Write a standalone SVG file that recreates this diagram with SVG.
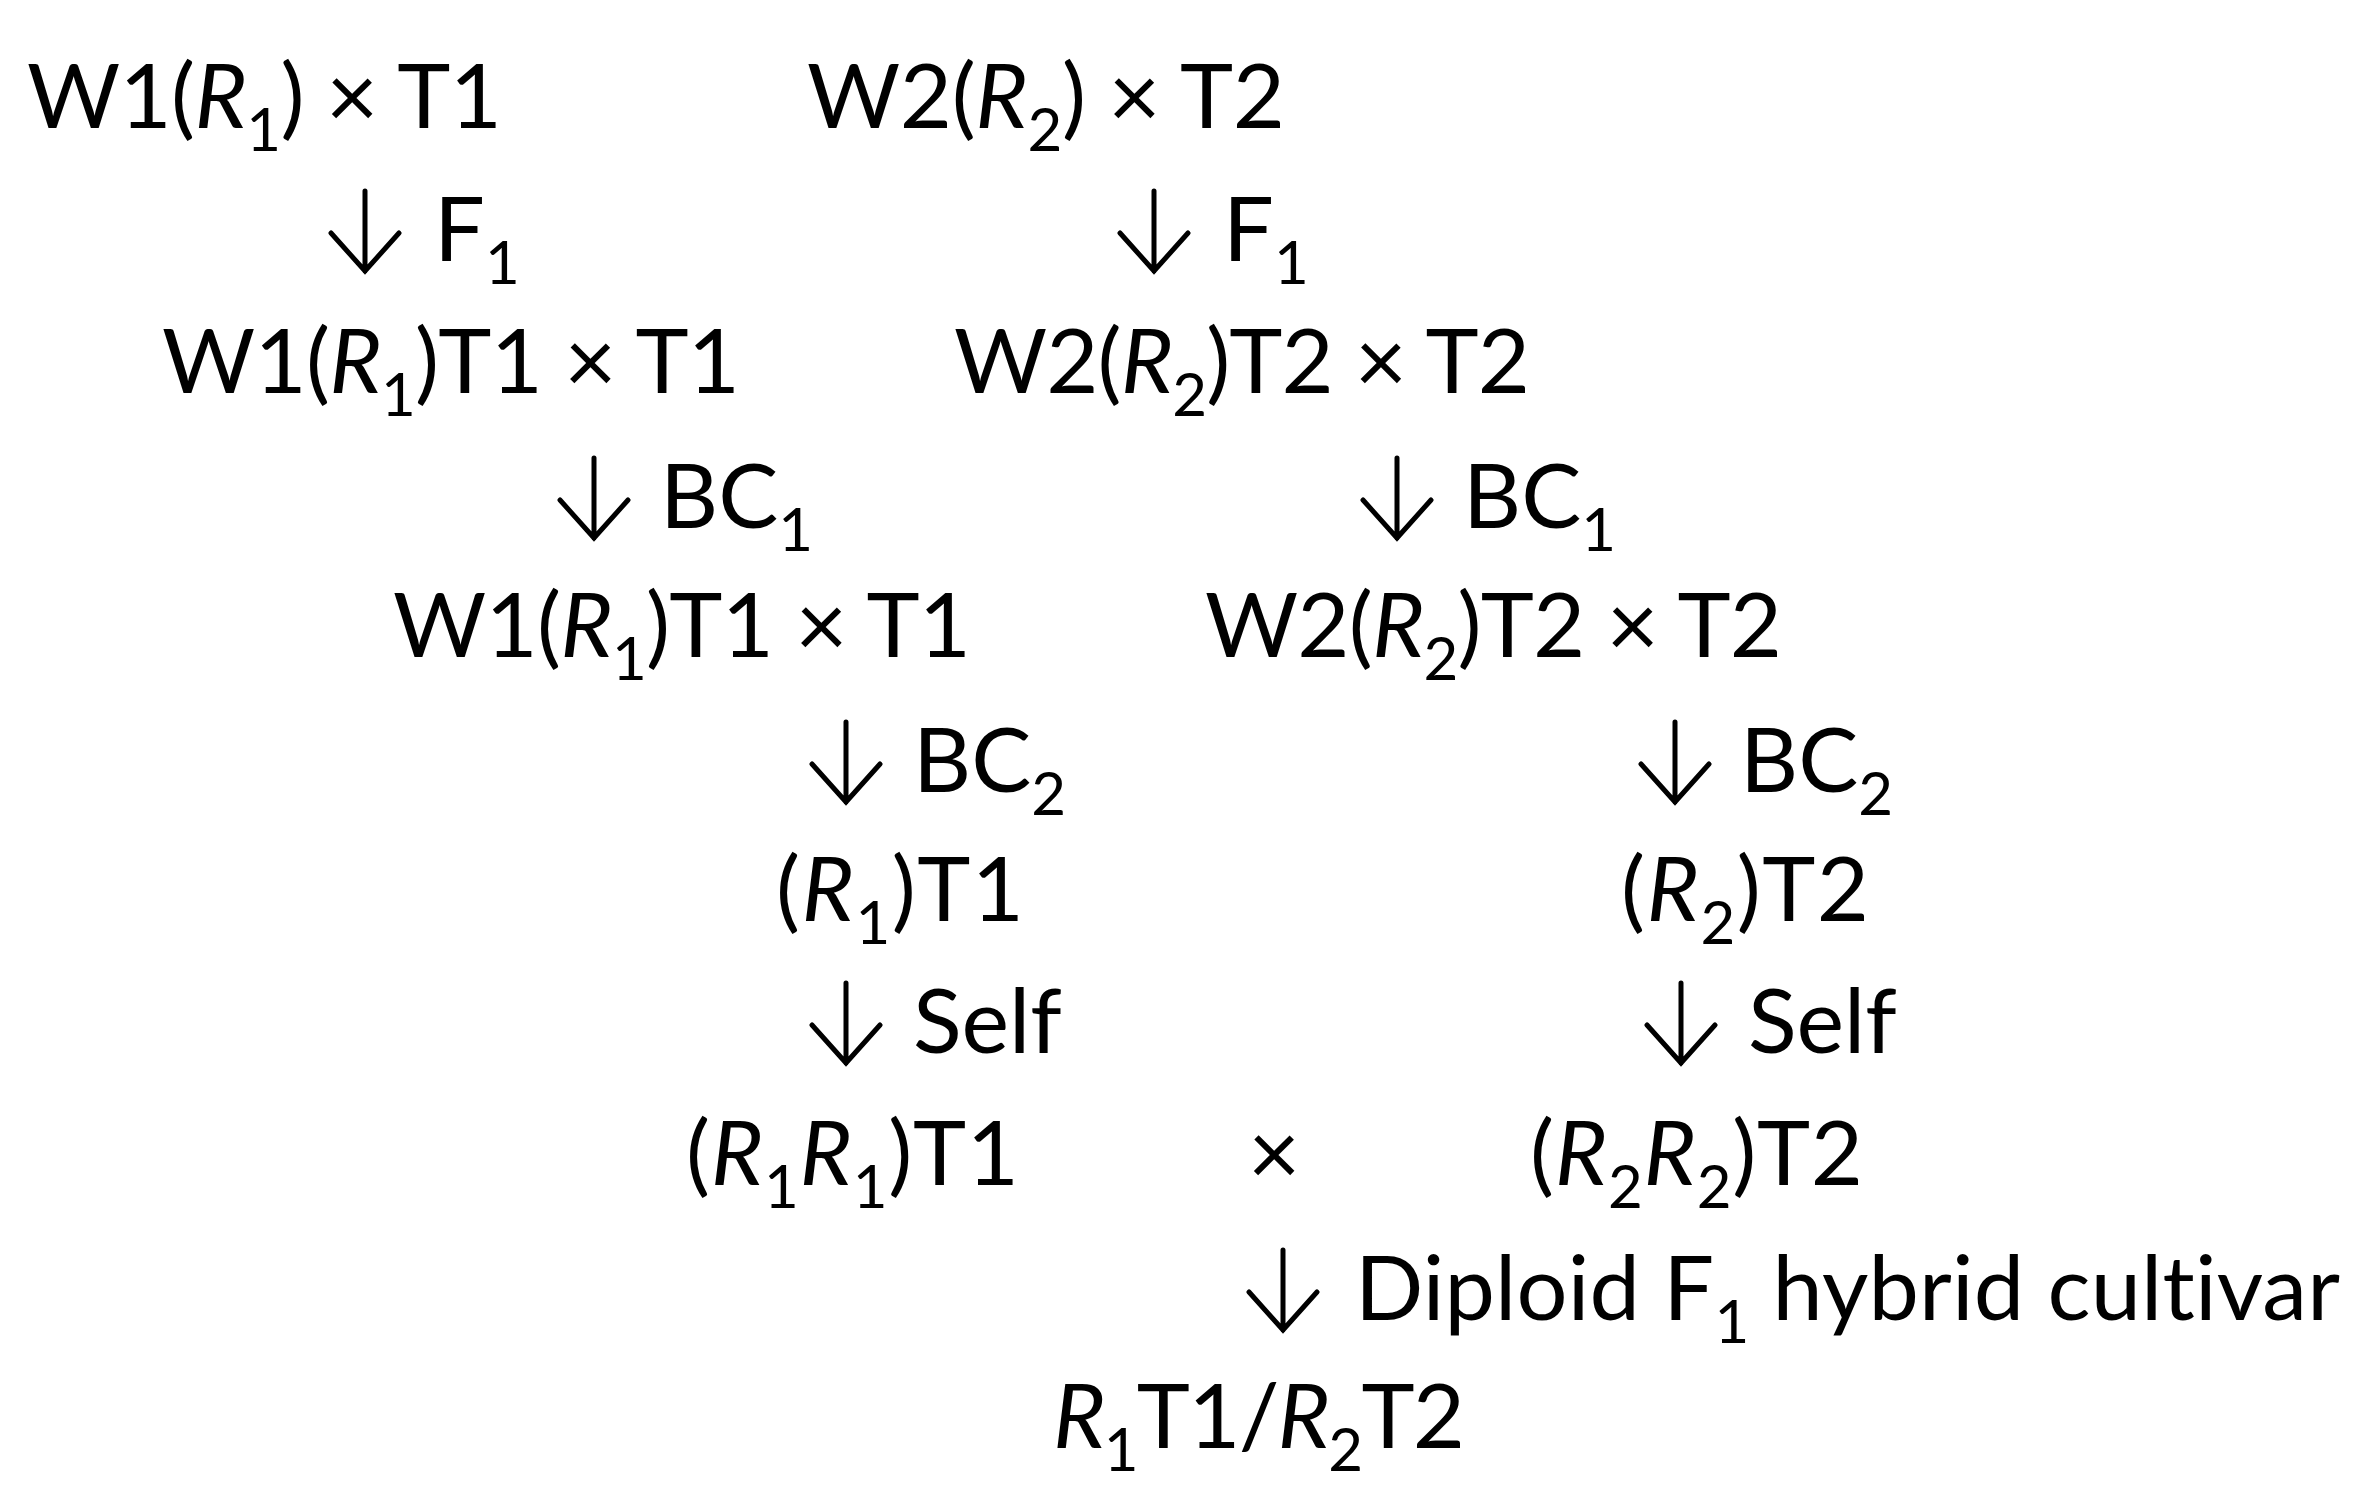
<svg xmlns="http://www.w3.org/2000/svg" width="2353" height="1510" viewBox="0 0 2353 1510">
<style>
  text { font-family: Lato, "Open Sans", "Liberation Sans", sans-serif; font-size: 90px; fill: #000; font-variant-ligatures: none; }
  .i { font-style: italic; }
  .s { font-size: 60px; }
  .arrow { fill: none; stroke: #000; stroke-width: 5; stroke-linecap: round; stroke-linejoin: miter; }
</style>
<defs>
  <path id="arr" class="arrow" d="M0,-70 V10 M-34,-28 L0,10 L34,-28"/>
</defs>
<rect width="2353" height="1510" fill="#fff"/>

<g id="connectors">
  <use href="#arr" x="365" y="261"/>
  <use href="#arr" x="1154" y="261"/>
  <use href="#arr" x="594" y="528"/>
  <use href="#arr" x="1397" y="528"/>
  <use href="#arr" x="846" y="792"/>
  <use href="#arr" x="1675" y="792"/>
  <use href="#arr" x="846" y="1053"/>
  <use href="#arr" x="1681" y="1053"/>
  <use href="#arr" x="1283" y="1320"/>
</g>

<g id="n-w1-t1">
  <text x="27" y="128" textLength="475">W1(<tspan class="i">R</tspan><tspan class="s" dy="23">1</tspan><tspan dy="-23">) × T1</tspan></text>
</g>
<g id="n-w2-t2">
  <text x="807" y="128" textLength="478">W2(<tspan class="i">R</tspan><tspan class="s" dy="23">2</tspan><tspan dy="-23">) × T2</tspan></text>
</g>
<g id="l-f1-left">
  <text x="434" y="261">F<tspan class="s" dy="23">1</tspan></text>
</g>
<g id="l-f1-right">
  <text x="1223" y="261">F<tspan class="s" dy="23">1</tspan></text>
</g>
<g id="n-w1-bc1">
  <text x="162" y="393" textLength="578">W1(<tspan class="i">R</tspan><tspan class="s" dy="23">1</tspan><tspan dy="-23">)T1 × T1</tspan></text>
</g>
<g id="n-w2-bc1">
  <text x="954" y="393" textLength="576">W2(<tspan class="i">R</tspan><tspan class="s" dy="23">2</tspan><tspan dy="-23">)T2 × T2</tspan></text>
</g>
<g id="l-bc1-left">
  <text x="660" y="528">BC<tspan class="s" dy="23">1</tspan></text>
</g>
<g id="l-bc1-right">
  <text x="1463" y="528">BC<tspan class="s" dy="23">1</tspan></text>
</g>
<g id="n-w1-bc2">
  <text x="393" y="657" textLength="578">W1(<tspan class="i">R</tspan><tspan class="s" dy="23">1</tspan><tspan dy="-23">)T1 × T1</tspan></text>
</g>
<g id="n-w2-bc2">
  <text x="1205" y="657" textLength="577">W2(<tspan class="i">R</tspan><tspan class="s" dy="23">2</tspan><tspan dy="-23">)T2 × T2</tspan></text>
</g>
<g id="l-bc2-left">
  <text x="913" y="792">BC<tspan class="s" dy="23">2</tspan></text>
</g>
<g id="l-bc2-right">
  <text x="1740" y="792">BC<tspan class="s" dy="23">2</tspan></text>
</g>
<g id="n-r1t1">
  <text x="776" y="921" textLength="248">(<tspan class="i">R</tspan><tspan class="s" dy="23">1</tspan><tspan dy="-23">)T1</tspan></text>
</g>
<g id="n-r2t2">
  <text x="1621" y="921" textLength="248">(<tspan class="i">R</tspan><tspan class="s" dy="23">2</tspan><tspan dy="-23">)T2</tspan></text>
</g>
<g id="l-self-left">
  <text x="913" y="1053">Self</text>
</g>
<g id="l-self-right">
  <text x="1748" y="1053">Self</text>
</g>
<g id="n-r1r1t1">
  <text x="686" y="1185" textLength="333">(<tspan class="i">R</tspan><tspan class="s" dy="23">1</tspan><tspan class="i" dy="-23">R</tspan><tspan class="s" dy="23">1</tspan><tspan dy="-23">)T1</tspan></text>
</g>
<g id="l-cross">
  <text x="1248" y="1185">×</text>
</g>
<g id="n-r2r2t2">
  <text x="1530" y="1185" textLength="333">(<tspan class="i">R</tspan><tspan class="s" dy="23">2</tspan><tspan class="i" dy="-23">R</tspan><tspan class="s" dy="23">2</tspan><tspan dy="-23">)T2</tspan></text>
</g>
<g id="l-hybrid">
  <text x="1355" y="1320" textLength="985">Diploid F<tspan class="s" dy="23">1</tspan><tspan dy="-23"> hybrid cultivar</tspan></text>
</g>
<g id="n-final">
  <text x="1053" y="1448" textLength="412"><tspan class="i">R</tspan><tspan class="s" dy="23">1</tspan><tspan dy="-23">T1/</tspan><tspan class="i">R</tspan><tspan class="s" dy="23">2</tspan><tspan dy="-23">T2</tspan></text>
</g>
</svg>
